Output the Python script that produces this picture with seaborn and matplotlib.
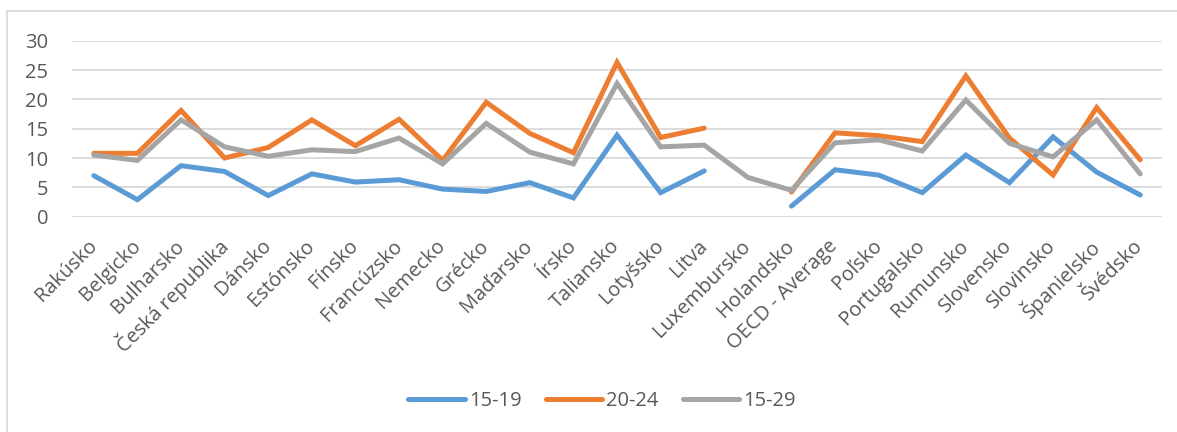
import numpy as np
import pandas as pd
import seaborn as sns
import matplotlib.pyplot as plt
from matplotlib.lines import Line2D
from matplotlib.patches import Rectangle

# ---- Data ----
countries = ['Rakúsko', 'Belgicko', 'Bulharsko', 'Česká republika', 'Dánsko',
             'Estónsko', 'Fínsko', 'Francúzsko', 'Nemecko', 'Grécko',
             'Maďarsko', 'Írsko', 'Taliansko', 'Lotyšsko', 'Litva',
             'Luxembursko', 'Holandsko', 'OECD - Average', 'Poľsko',
             'Portugalsko', 'Rumunsko', 'Slovensko', 'Slovinsko',
             'Španielsko', 'Švédsko']

age_15_19 = [7.0, 2.9, 8.7, 7.7, 3.6, 7.3, 5.9, 6.3, 4.7, 4.3,
             5.8, 3.2, 13.9, 4.1, 7.8, np.nan, 1.8, 8.0, 7.1,
             4.1, 10.5, 5.8, 13.6, 7.6, 3.7]
age_20_24 = [10.8, 10.8, 18.1, 10.0, 11.8, 16.5, 12.1, 16.6, 9.6, 19.5,
             14.2, 10.9, 26.3, 13.5, 15.1, np.nan, 4.2, 14.3, 13.8,
             12.8, 24.0, 13.4, 7.1, 18.6, 9.7]
age_15_29 = [10.5, 9.6, 16.5, 11.9, 10.3, 11.4, 11.1, 13.4, 9.0, 15.9,
             11.0, 9.0, 22.7, 11.9, 12.2, 6.7, 4.5, 12.6, 13.1,
             11.2, 19.9, 12.5, 10.2, 16.5, 7.3]

series = {'15-19': age_15_19, '20-24': age_20_24, '15-29': age_15_29}
colors = {'15-19': '#5B9BD5', '20-24': '#ED7D31', '15-29': '#A5A5A5'}

# long format, a new segment starts after each missing value (Excel-style gaps)
rows = []
for name, vals in series.items():
    seg = 0
    for i, v in enumerate(vals):
        if np.isnan(v):
            seg += 1
            continue
        rows.append({'pos': i, 'value': v, 'series': name, 'seg': seg})
df = pd.DataFrame(rows)

# ---- Plot ----
sns.set_style('white')
plt.rcParams['font.family'] = ['Open Sans', 'DejaVu Sans']
text_col = '#595959'
fsize = 14.5

fig = plt.figure(figsize=(11.77, 4.32), dpi=100)
ax = fig.add_axes([0.0612, 0.4984, 0.9261, 0.4074])

sns.lineplot(data=df, x='pos', y='value', hue='series', units='seg',
             estimator=None, palette=colors, hue_order=list(series.keys()),
             linewidth=3.6, legend=False, ax=ax, zorder=3)
for ln in ax.lines:
    ln.set_solid_joinstyle('miter')
    ln.set_solid_capstyle('round')

ax.set_xlim(-0.5, len(countries) - 0.5)
ax.set_ylim(0, 30)
ax.set_yticks(range(0, 31, 5))
ax.set_xticks(range(len(countries)))
ax.set_xticklabels(countries, rotation=45, ha='right', va='center',
                   rotation_mode='anchor')
ax.tick_params(axis='both', length=0, labelsize=fsize, colors=text_col)
ax.tick_params(axis='y', pad=17)
ax.tick_params(axis='x', pad=19)
ax.set_xlabel('')
ax.set_ylabel('')
ax.grid(axis='y', color='#D9D9D9', linewidth=1.3)
ax.grid(axis='x', visible=False)
sns.despine(ax=ax, left=True, bottom=True)

# legend
handles = [Line2D([0], [0], color=colors[k], linewidth=3.6, solid_capstyle='round')
           for k in series]
fig.legend(handles, list(series.keys()), loc='center', ncol=3,
           bbox_to_anchor=(0.5115, 0.072), frameon=False, fontsize=fsize,
           handlelength=2.8, handletextpad=0.2, columnspacing=1.2,
           labelcolor=text_col)

# chart area border (cut off at right and bottom)
fig.patches.append(Rectangle((7 / 1177, -0.1), 1.2, 1 - 11 / 432 + 0.1,
                             transform=fig.transFigure, fill=False,
                             edgecolor='#D9D9D9', linewidth=1.3))

fig.savefig('out.png', dpi=100)
